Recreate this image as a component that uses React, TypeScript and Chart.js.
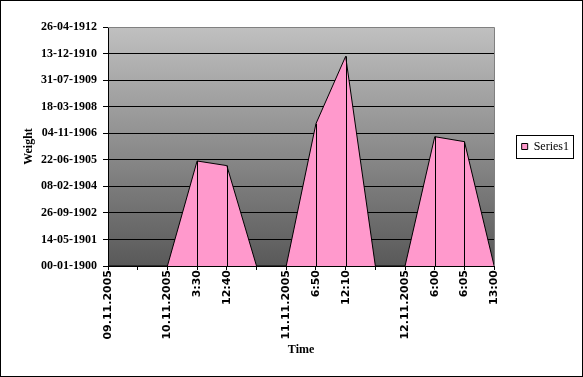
import React, { useEffect, useRef } from "react";
import { Chart, registerables } from "chart.js";

Chart.register(...registerables);

const categories = [
  "09.11.2005", "", "10.11.2005", "3:30", "12:40", "",
  "11.11.2005", "6:50", "12:10", "",
  "12.11.2005", "6:00", "6:05", "13:00",
];
const series1 = [0, 0, 0, 1977, 1890, 0, 0, 2679, 3948, 0, 0, 2435, 2341, 0];
const yTickLabels = [
  "00-01-1900", "14-05-1901", "26-09-1902", "08-02-1904", "22-06-1905",
  "04-11-1906", "18-03-1908", "31-07-1909", "13-12-1910", "26-04-1912",
];
const yStep = 500;
const yMax = 4500;

const W = 583;
const H = 377;
const PAD_BOTTOM = 20;

const excelPlugin = {
  id: "excelLook",
  beforeDraw(chart: any) {
    const { ctx, chartArea: a } = chart;
    ctx.save();
    ctx.fillStyle = "#ffffff";
    ctx.fillRect(0, 0, chart.width, chart.height);
    const g = ctx.createLinearGradient(0, a.top, 0, a.bottom);
    g.addColorStop(0, "#c0c0c0");
    g.addColorStop(1, "#595959");
    ctx.fillStyle = g;
    ctx.fillRect(a.left, a.top, a.right - a.left, a.bottom - a.top);
    ctx.restore();
  },
  afterDatasetsDraw(chart: any) {
    const { ctx, chartArea: a } = chart;
    const meta = chart.getDatasetMeta(0);
    const y0 = chart.scales.y.getPixelForValue(0);
    ctx.save();
    ctx.strokeStyle = "#000";
    ctx.lineWidth = 1;
    meta.data.forEach((pt: any, i: number) => {
      if (series1[i] > 0) {
        const x = Math.round(pt.x) + 0.5;
        ctx.beginPath();
        ctx.moveTo(x, pt.y);
        ctx.lineTo(x, y0);
        ctx.stroke();
      }
    });
    // plot area border (top & right) gray
    ctx.strokeStyle = "#808080";
    ctx.beginPath();
    ctx.moveTo(Math.round(a.left), Math.round(a.top) + 0.5);
    ctx.lineTo(Math.round(a.right) + 0.5, Math.round(a.top) + 0.5);
    ctx.lineTo(Math.round(a.right) + 0.5, Math.round(a.bottom));
    ctx.stroke();
    ctx.restore();
  },
  afterDraw(chart: any) {
    const { ctx } = chart;
    ctx.save();
    ctx.strokeStyle = "#000";
    ctx.lineWidth = 1;
    // legend frame
    const lg = chart.legend;
    if (lg && lg.legendHitBoxes && lg.legendHitBoxes.length) {
      const hb = lg.legendHitBoxes[0];
      const l = Math.round(hb.left) - 5.5;
      const t = Math.round(hb.top) - 5.5;
      const r = Math.round(hb.left + hb.width) + 4.5;
      const b = Math.round(hb.top + hb.height) + 5.5;
      ctx.strokeRect(l, t, r - l, b - t);
    }
    // outer chart border
    ctx.strokeRect(0.5, 0.5, chart.width - 1, chart.height - 1);
    ctx.restore();
  },
};

export default function App() {
  const ref = useRef<HTMLCanvasElement | null>(null);

  useEffect(() => {
    if (!ref.current) return;
    const chart = new Chart(ref.current, {
      type: "line",
      data: {
        labels: categories,
        datasets: [
          {
            label: "Series1",
            data: series1,
            fill: "origin",
            backgroundColor: "#ff99cc",
            borderColor: "#000000",
            borderWidth: 1,
            pointRadius: 0,
            tension: 0,
          },
        ],
      },
      options: {
        responsive: false,
        animation: false,
        devicePixelRatio: 1,
        layout: { padding: { left: 0, top: 27, right: 4, bottom: PAD_BOTTOM } },
        plugins: {
          tooltip: { enabled: false },
          legend: {
            position: "right",
            align: "center",
            fullSize: false,
            labels: {
              boxWidth: 6,
              boxHeight: 6,
              padding: 27.5,
              color: "#000",
              font: { family: "'Liberation Serif', 'Times New Roman', serif", size: 12 },
              generateLabels: (c: any) => [
                {
                  text: "Series1",
                  fillStyle: "#ff99cc",
                  strokeStyle: "#000",
                  lineWidth: 1,
                  hidden: false,
                  datasetIndex: 0,
                  fontColor: "#000",
                },
              ],
            },
          },
        },
        scales: {
          x: {
            type: "category",
            offset: false,
            z: 1,
            grid: {
              display: true,
              drawOnChartArea: false,
              drawTicks: true,
              tickLength: 4,
              tickColor: "#000",
            },
            border: { display: true, color: "#000", width: 1 },
            ticks: {
              autoSkip: false,
              maxRotation: 90,
              minRotation: 90,
              padding: 0,
              color: "#000",
              font: { family: "'DejaVu Sans', sans-serif", size: 11, weight: "bold" },
            },
            title: {
              display: true,
              text: "Time",
              color: "#000",
              padding: { top: 4, bottom: 0 },
              font: { family: "'Liberation Serif', 'Times New Roman', serif", size: 12, weight: "bold" },
            },
            afterFit: (s: any) => {
              s.height = H - PAD_BOTTOM - 266;
            },
          },
          y: {
            min: 0,
            max: yMax,
            grid: {
              color: (c: any) => (c.tick && c.tick.value === yMax ? "rgba(0,0,0,0)" : "#000"),
              tickColor: "#000",
              tickLength: 5,
              drawTicks: true,
            },
            border: { display: true, color: "#000", width: 1 },
            ticks: {
              stepSize: yStep,
              padding: 6,
              color: "#000",
              font: { family: "'Liberation Serif', 'Times New Roman', serif", size: 12, weight: "bold" },
              callback: (v: any) => yTickLabels[Math.round(Number(v) / yStep)] ?? "",
            },
            title: {
              display: true,
              text: "Weight",
              color: "#000",
              padding: { top: 22, bottom: 0 },
              font: { family: "'Liberation Serif', 'Times New Roman', serif", size: 12, weight: "bold" },
            },
            afterFit: (s: any) => {
              s.width = 108;
            },
          },
        },
      },
      plugins: [excelPlugin],
    } as any);
    return () => chart.destroy();
  }, []);

  return (
    <div style={{ position: "absolute", left: 0, top: 0, width: W, height: H }}>
      <canvas ref={ref} width={W} height={H} style={{ width: W, height: H, display: "block" }} />
    </div>
  );
}
